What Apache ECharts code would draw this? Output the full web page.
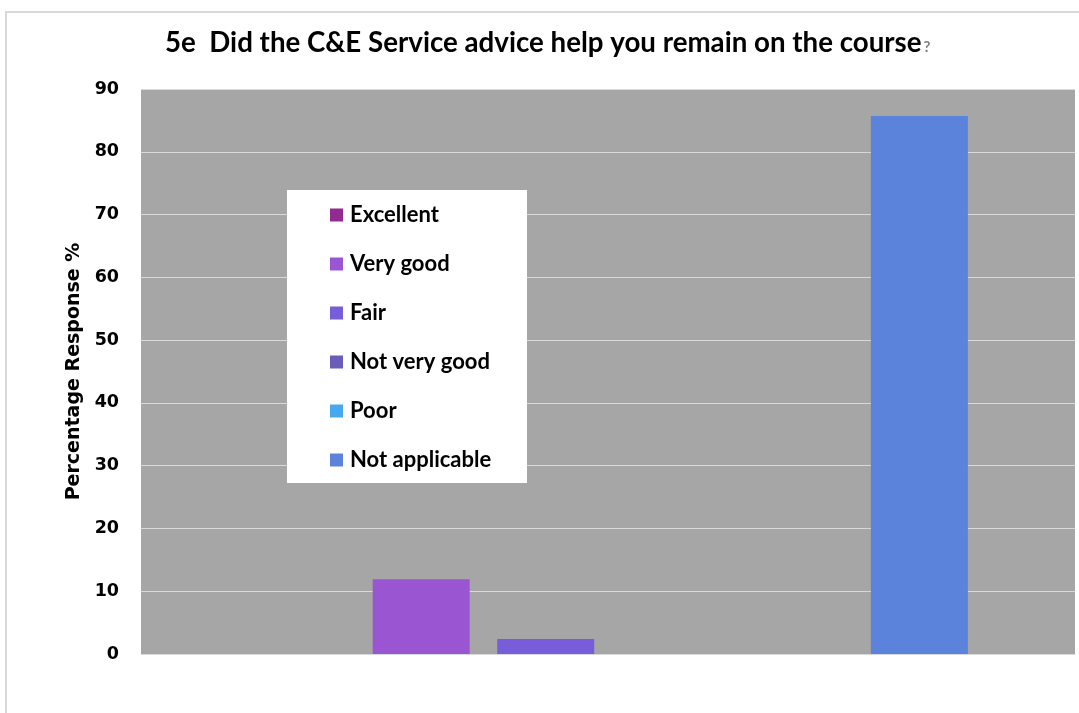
<!DOCTYPE html>
<html>
<head>
<meta charset="utf-8">
<title>5e C&amp;E Service advice</title>
<script src="https://cdn.jsdelivr.net/npm/echarts@6/dist/echarts.min.js"></script>
<style>
  html, body { margin: 0; padding: 0; background: #ffffff; }
  #frame {
    position: absolute; left: 5px; top: 11px; width: 1080px; height: 710px;
    border-left: 2px solid #d9d9d9; border-top: 2px solid #d9d9d9; box-sizing: border-box;
  }
  #chart { position: absolute; left: 0; top: 0; width: 1079px; height: 713px; }
</style>
</head>
<body>
<div id="frame"></div>
<div id="chart"></div>
<script>
// Survey question 5e: share of responses per rating (percent)
const categories = ['Excellent', 'Very good', 'Fair', 'Not very good', 'Poor', 'Not applicable'];
const responseValues = [0, 11.9, 2.4, 0, 0, 85.7];
const seriesColors = ['#922b91', '#9a56d2', '#775dda', '#6a5cb9', '#48a8ee', '#5b83db'];
const yTicks = { min: 0, max: 90, interval: 10 };

const titleText = '5e  Did the C&E Service advice help you remain on the course';

const chart = echarts.init(document.getElementById('chart'), null, { renderer: 'canvas' });

const series = categories.map((name, i) => ({
  name: name,
  type: 'bar',
  data: [responseValues[i]],
  barWidth: 97,
  barGap: '28.4%',
  itemStyle: { color: seriesColors[i] },
  emphasis: { disabled: true }
}));

chart.setOption({
  animation: false,
  backgroundColor: 'transparent',
  title: {
    text: titleText + '{q|?}',
    left: 165,
    top: 29,
    padding: 0,
    textStyle: {
      fontFamily: 'Lato',
      fontWeight: 'bold',
      fontSize: 27.7,
      color: '#000000',
      rich: {
        q: { fontFamily: 'Lato', fontSize: 15, color: '#7f7f7f', fontWeight: 'bold', padding: [8, 0, 0, 2] }
      }
    }
  },
  grid: {
    left: 141, right: 4, top: 89, bottom: 59,
    show: true, backgroundColor: '#a6a6a6', borderWidth: 0
  },
  graphic: [{
    type: 'rect',
    z: 3,
    shape: { x: 287, y: 190, width: 240, height: 293 },
    style: { fill: '#ffffff', stroke: null }
  }],
  legend: {
    orient: 'vertical',
    left: 330,
    top: 204,
    padding: 0,
    z: 5,
    itemWidth: 13,
    itemHeight: 13,
    itemGap: 27,
    icon: 'rect',
    selectedMode: false,
    data: categories,
    textStyle: {
      fontFamily: 'Lato',
      fontWeight: 'bold',
      fontSize: 22,
      lineHeight: 22,
      color: '#000000',
      padding: [0, 0, 0, 2]
    }
  },
  xAxis: {
    type: 'category',
    data: [''],
    axisLine: { show: true, lineStyle: { color: '#d9d9d9', width: 1 } },
    axisTick: { show: false },
    axisLabel: { show: false },
    splitLine: { show: false }
  },
  yAxis: {
    type: 'value',
    min: yTicks.min,
    max: yTicks.max,
    interval: yTicks.interval,
    name: 'Percentage Response %',
    nameLocation: 'middle',
    nameGap: 56,
    nameRotate: 90,
    nameTextStyle: {
      fontFamily: '"DejaVu Sans", sans-serif',
      fontWeight: 'bold',
      fontSize: 19,
      color: '#000000'
    },
    axisLine: { show: false },
    axisTick: { show: false },
    axisLabel: {
      margin: 22,
      fontFamily: '"DejaVu Sans", sans-serif',
      fontWeight: 'bold',
      fontSize: 17.5,
      color: '#000000'
    },
    splitLine: { show: true, lineStyle: { color: '#d9d9d9', width: 1 } }
  },
  series: series
});
</script>
</body>
</html>
